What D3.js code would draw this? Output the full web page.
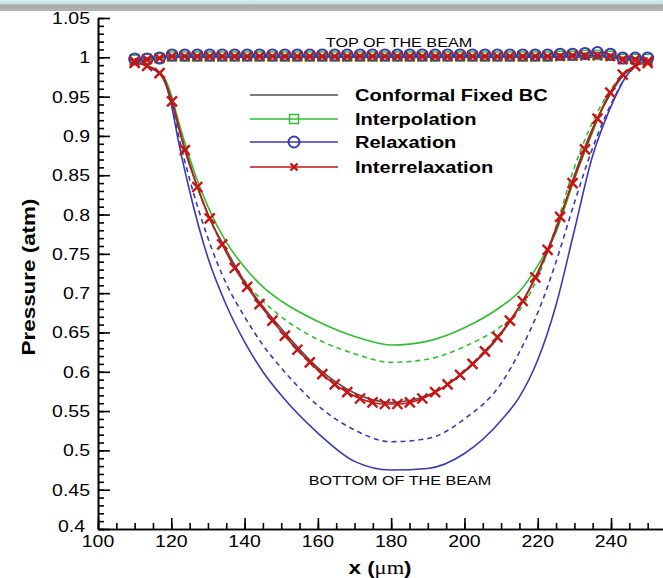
<!DOCTYPE html>
<html>
<head>
<meta charset="utf-8">
<script src="https://cdn.jsdelivr.net/npm/d3@7"></script>
<style>
  body { margin: 0; background: #fff; }
  svg { display: block; }
  text { font-family: "Liberation Sans", Arial, sans-serif; fill: #000; }
</style>
</head>
<body>
<svg id="chart" width="663" height="578"></svg>
<script>
// stations where the solvers print a marker (um)
var stationX = [110, 113.4, 116.8, 120.2, 123.7, 127.1, 130.5, 133.9, 137.3, 140.7, 144.1, 147.6, 151, 154.4,
    157.8, 161.2, 164.6, 168, 171.5, 174.9, 178.3, 181.7, 185.1, 188.5, 192, 195.4, 198.8, 202.2,
    205.6, 209, 212.4, 215.9, 219.3, 222.7, 226.1, 229.5, 232.9, 236.3, 239.8, 243.2, 246.6, 250];

// top of the beam
var relaxTop = [0.998, 0.998, 0.999, 1.003, 1.003, 1.003, 1.003, 1.003, 1.003, 1.003, 1.003, 1.003, 1.003, 1.003,
    1.003, 1.003, 1.003, 1.003, 1.003, 1.003, 1.003, 1.003, 1.003, 1.003, 1.003, 1.003, 1.003, 1.003,
    1.003, 1.003, 1.003, 1.003, 1.003, 1.003, 1.004, 1.004, 1.005, 1.006, 1.004, 0.999, 0.999, 0.999];
var interpTop = [0.997, 0.998, 0.999, 1.001, 1.001, 1.001, 1.001, 1.001, 1.001, 1.001, 1.001, 1.001, 1.001, 1.001,
    1.001, 1.001, 1.001, 1.001, 1.001, 1.001, 1.001, 1.001, 1.001, 1.001, 1.001, 1.001, 1.001, 1.001,
    1.001, 1.001, 1.001, 1.001, 1.001, 1.001, 1.002, 1.002, 1.003, 1.003, 1.002, 0.998, 0.998, 0.998];
var interrelaxTop = [0.995, 0.997, 0.999, 1.001, 1.001, 1.001, 1.001, 1.001, 1.001, 1.001, 1.001, 1.001, 1.001, 1.001,
    1.001, 1.001, 1.001, 1.001, 1.001, 1.001, 1.001, 1.001, 1.001, 1.001, 1.001, 1.001, 1.001, 1.001,
    1.001, 1.001, 1.001, 1.001, 1.001, 1.001, 1.001, 1.002, 1.002, 1.002, 1.001, 0.997, 0.997, 0.995];

// bottom of the beam, interrelaxation (with markers)
var interrelaxBottom = [0.993, 0.989, 0.98, 0.944, 0.882, 0.835, 0.795, 0.762, 0.732, 0.708, 0.686, 0.665, 0.646, 0.628,
    0.612, 0.597, 0.584, 0.574, 0.566, 0.561, 0.559, 0.559, 0.561, 0.566, 0.574, 0.584, 0.596, 0.61,
    0.626, 0.644, 0.665, 0.69, 0.72, 0.755, 0.797, 0.84, 0.883, 0.922, 0.955, 0.978, 0.989, 0.993];

// curves drawn as plain lines
var curveX = [110, 113, 116, 118, 120, 122, 125, 130, 135, 140, 145, 150, 160, 170,
    180, 190, 200, 210, 215, 220, 225, 230, 235, 238, 241, 244, 247, 250];
var conformalTop = [0.996, 0.999, 1, 1, 1, 1, 1, 1, 1, 1, 1, 1, 1, 1,
    1, 1, 1, 1, 1, 1, 1, 1, 1, 1, 1, 1, 0.999, 0.996];
var conformalBottom = [0.994, 0.99, 0.983, 0.973, 0.947, 0.91, 0.865, 0.8, 0.755, 0.715, 0.683, 0.655, 0.605, 0.573,
    0.561, 0.57, 0.6, 0.648, 0.682, 0.725, 0.78, 0.85, 0.91, 0.938, 0.962, 0.98, 0.99, 0.995];
var interpBottom = [0.995, 0.99, 0.983, 0.975, 0.952, 0.918, 0.872, 0.81, 0.765, 0.733, 0.708, 0.69, 0.664, 0.645,
    0.634, 0.639, 0.656, 0.683, 0.702, 0.735, 0.778, 0.845, 0.905, 0.94, 0.963, 0.98, 0.99, 0.995];
var interpBottomDash = [0.995, 0.99, 0.983, 0.974, 0.95, 0.915, 0.865, 0.8, 0.752, 0.716, 0.69, 0.67, 0.641, 0.623,
    0.612, 0.616, 0.632, 0.658, 0.678, 0.72, 0.785, 0.86, 0.918, 0.945, 0.966, 0.981, 0.99, 0.995];
var relaxBottom = [0.995, 0.99, 0.982, 0.972, 0.94, 0.892, 0.83, 0.745, 0.685, 0.638, 0.6, 0.57, 0.522, 0.486,
    0.475, 0.477, 0.496, 0.538, 0.568, 0.615, 0.685, 0.78, 0.875, 0.915, 0.948, 0.975, 0.99, 0.996];
var relaxBottomDash = [0.995, 0.99, 0.982, 0.972, 0.943, 0.9, 0.845, 0.77, 0.712, 0.67, 0.634, 0.605, 0.557, 0.526,
    0.511, 0.515, 0.54, 0.585, 0.625, 0.675, 0.74, 0.815, 0.885, 0.92, 0.95, 0.975, 0.99, 0.996];

var yTicks = [0.4, 0.45, 0.5, 0.55, 0.6, 0.65, 0.7, 0.75, 0.8, 0.85, 0.9, 0.95, 1, 1.05];
var yTickLabels = ["0.4", "0.45", "0.5", "0.55", "0.6", "0.65", "0.7", "0.75", "0.8", "0.85", "0.9", "0.95", "1", "1.05"];
var xTicks = [100, 120, 140, 160, 180, 200, 220, 240];
var xTickLabels = ["100", "120", "140", "160", "180", "200", "220", "240"];
var legendNames = ["Conformal Fixed BC", "Interpolation", "Relaxation", "Interrelaxation"];

var GRAY = "#505050", GREEN = "#2fc02f", BLUE = "#3a3ab4", RED = "#c81414";
var WIDE = 1.18; // tecplot's font runs wide

var svg = d3.select("#chart");

// window chrome strip on top
var grad = svg.append("defs").append("linearGradient")
	.attr("id", "strip").attr("x1", 0).attr("y1", 0).attr("x2", 0).attr("y2", 1);
grad.append("stop").attr("offset", "0").attr("stop-color", "#d6eeee");
grad.append("stop").attr("offset", "0.35").attr("stop-color", "#c4dede");
grad.append("stop").attr("offset", "0.45").attr("stop-color", "#a9a9a9");
grad.append("stop").attr("offset", "1").attr("stop-color", "#b4b4b4");
svg.append("rect").attr("x", 0).attr("y", 0).attr("width", 663).attr("height", 11).attr("fill", "url(#strip)");

var x = d3.scaleLinear().domain([100, 255]).range([98, 666]);
var y = d3.scaleLinear().domain([0.4, 1.05]).range([529, 18]);

function wideText(g, px, py, str, rot) {
    return g.append("text")
	.attr("transform", "translate(" + px + "," + py + ")" + (rot ? " rotate(" + rot + ")" : "") + " scale(" + WIDE + ",1)")
	.text(str);
}

// axes, ticks pointing inward
function styleAxis(g) {
    g.selectAll("path, line").attr("stroke", "#000").attr("stroke-width", 1.6);
}
svg.append("g").attr("transform", "translate(" + x(100) + ",0)")
    .call(d3.axisLeft(y).tickValues(y.ticks(65)).tickSizeInner(-6).tickSizeOuter(0).tickFormat(""))
    .call(styleAxis);
svg.append("g").attr("transform", "translate(" + x(100) + ",0)")
    .call(d3.axisLeft(y).tickValues(yTicks).tickSizeInner(-12).tickSizeOuter(0).tickFormat(""))
    .call(styleAxis);
svg.append("g").attr("transform", "translate(0," + y(0.4) + ")")
    .call(d3.axisBottom(x).tickValues(d3.range(100, 256, 5)).tickSizeInner(-6).tickSizeOuter(0).tickFormat(""))
    .call(styleAxis);
svg.append("g").attr("transform", "translate(0," + y(0.4) + ")")
    .call(d3.axisBottom(x).tickValues(xTicks).tickSizeInner(-11).tickSizeOuter(0).tickFormat(""))
    .call(styleAxis);

var labels = svg.append("g").style("font-size", "16.5px");
yTicks.forEach(function (v, i) {
    // the bottom label sits a little up and left, clear of "100"
    var lx = i === 0 ? 85 : 90, ly = i === 0 ? y(v) + 3 : y(v) + 6;
    wideText(labels, lx, ly, yTickLabels[i]).attr("text-anchor", "end");
});
xTicks.forEach(function (v, i) {
    wideText(labels, x(v), 547, xTickLabels[i]).attr("text-anchor", "middle");
});

var titles = svg.append("g").style("font-size", "19px").style("font-weight", "bold");
wideText(titles, 35, 277, "Pressure (atm)", -90).attr("text-anchor", "middle");
var xt = wideText(titles, 380, 574, "x (").attr("text-anchor", "middle");
xt.append("tspan").style("font-family", "'Liberation Serif', serif").style("font-weight", "normal").text("\u03bcm");
xt.append("tspan").text(")");

// curves
function drawLine(xs, ys, color, dash) {
    var line = d3.line()
	.x(function (d) { return x(d[0]); })
	.y(function (d) { return y(d[1]); })
	.curve(d3.curveMonotoneX);
    svg.append("path")
	.datum(d3.zip(xs, ys))
	.attr("d", line)
	.attr("fill", "none")
	.attr("stroke", color)
	.attr("stroke-width", 1.6)
	.attr("stroke-dasharray", dash ? "5,4" : null);
}

drawLine(curveX, conformalTop, GRAY);
drawLine(curveX, interpBottomDash, GREEN, true);
drawLine(curveX, interpBottom, GREEN);
drawLine(curveX, relaxBottomDash, BLUE, true);
drawLine(curveX, relaxBottom, BLUE);
drawLine(curveX, conformalBottom, GRAY);
drawLine(stationX, interpTop, GREEN);
drawLine(stationX, relaxTop, BLUE);
drawLine(stationX, interrelaxTop, RED);
drawLine(stationX, interrelaxBottom, RED);

// markers
function squareAt(g, cx, cy) {
    g.append("rect").attr("x", cx - 4.5).attr("y", cy - 4.5).attr("width", 9).attr("height", 9)
	.attr("fill", "none").attr("stroke", GREEN).attr("stroke-width", 1.5);
}
function circleAt(g, cx, cy) {
    g.append("circle").attr("cx", cx).attr("cy", cy).attr("r", 5.5)
	.attr("fill", "none").attr("stroke", BLUE).attr("stroke-width", 2);
}
function crossAt(g, cx, cy, s) {
    g.append("path")
	.attr("d", "M" + (cx - s) + "," + (cy - s) + "L" + (cx + s) + "," + (cy + s) +
	      "M" + (cx - s) + "," + (cy + s) + "L" + (cx + s) + "," + (cy - s))
	.attr("stroke", RED).attr("stroke-width", 2.4).attr("fill", "none");
}

var marks = svg.append("g");
stationX.forEach(function (v, i) { squareAt(marks, x(v), y(interpTop[i])); });
stationX.forEach(function (v, i) { circleAt(marks, x(v), y(relaxTop[i])); });
stationX.forEach(function (v, i) { crossAt(marks, x(v), y(interrelaxTop[i]), 4.5); });
stationX.forEach(function (v, i) { crossAt(marks, x(v), y(interrelaxBottom[i]), 5); });

// annotations
var notes = svg.append("g").style("font-size", "13.7px");
wideText(notes, 399, 47, "TOP OF THE BEAM").attr("text-anchor", "middle");
wideText(notes, 400, 485, "BOTTOM OF THE BEAM").attr("text-anchor", "middle");

// legend
var rowY = [95, 119, 142, 167];
var legendColors = [GRAY, GREEN, BLUE, RED];
var legend = svg.append("g").style("font-size", "17px").style("font-weight", "bold");
legendNames.forEach(function (name, i) {
    legend.append("line").attr("x1", 250).attr("x2", 338).attr("y1", rowY[i]).attr("y2", rowY[i])
	.attr("stroke", legendColors[i]).attr("stroke-width", 1.6);
    wideText(legend, 355, rowY[i] + 6, name);
});
squareAt(legend, 294, rowY[1]);
circleAt(legend, 294, rowY[2]);
crossAt(legend, 294, rowY[3], 3.5);
</script>
</body>
</html>
